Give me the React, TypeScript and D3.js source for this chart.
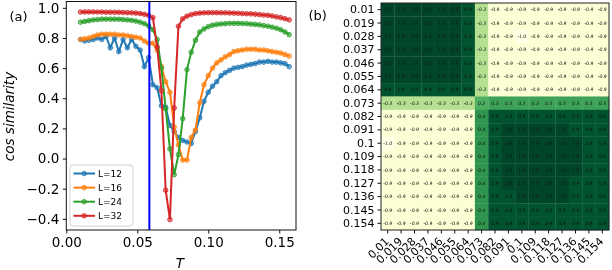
import React, { useRef, useEffect } from 'react';
import * as d3 from 'd3';

// temperatures of the curves in panel (a)
const temps = [
  0.010, 0.013, 0.016, 0.019, 0.022, 0.025, 0.028, 0.031, 0.034, 0.037,
  0.040, 0.043, 0.046, 0.049, 0.052, 0.055, 0.058, 0.061, 0.064, 0.067,
  0.070, 0.073, 0.076, 0.079, 0.082, 0.085, 0.088, 0.091, 0.094, 0.097,
  0.100, 0.103, 0.106, 0.109, 0.112, 0.115, 0.118, 0.121, 0.124, 0.127,
  0.130, 0.133, 0.136, 0.139, 0.142, 0.145, 0.148, 0.151, 0.154, 0.157,
];

const cosL12 = [
  0.79, 0.78, 0.785, 0.79, 0.80, 0.79, 0.81, 0.735, 0.80, 0.71,
  0.79, 0.735, 0.79, 0.745, 0.72, 0.61, 0.67, 0.49, 0.47, 0.35,
  0.34, 0.22, 0.18, 0.14, 0.12, 0.11, 0.10, 0.18, 0.27, 0.38,
  0.44, 0.48, 0.51, 0.55, 0.57, 0.585, 0.60, 0.605, 0.61, 0.62,
  0.625, 0.63, 0.64, 0.64, 0.645, 0.64, 0.64, 0.635, 0.63, 0.61,
];
const cosL16 = [
  0.79, 0.795, 0.80, 0.81, 0.82, 0.825, 0.825, 0.825, 0.825, 0.82,
  0.82, 0.815, 0.81, 0.805, 0.80, 0.78, 0.765, 0.765, 0.72, 0.61,
  0.51, 0.44, 0.21, 0.09, -0.01, -0.01, 0.14, 0.19, 0.37, 0.49,
  0.55, 0.60, 0.635, 0.655, 0.675, 0.69, 0.71, 0.715, 0.72, 0.725,
  0.725, 0.725, 0.72, 0.72, 0.715, 0.71, 0.705, 0.70, 0.69, 0.68,
];
const cosL24 = [
  0.905, 0.91, 0.915, 0.92, 0.922, 0.925, 0.925, 0.925, 0.925, 0.924,
  0.922, 0.92, 0.917, 0.912, 0.905, 0.895, 0.88, 0.856, 0.79, 0.60,
  0.33, 0.064, -0.107, 0.026, 0.265, 0.59, 0.705, 0.785, 0.84, 0.86,
  0.875, 0.885, 0.89, 0.893, 0.895, 0.897, 0.897, 0.897, 0.896, 0.895,
  0.892, 0.89, 0.887, 0.882, 0.878, 0.872, 0.865, 0.855, 0.84, 0.822,
];
const cosL32 = [
  0.972, 0.973, 0.973, 0.973, 0.972, 0.972, 0.971, 0.971, 0.970, 0.970,
  0.969, 0.968, 0.967, 0.965, 0.962, 0.957, 0.95, 0.935, 0.74, 0.45,
  -0.21, -0.405, 0.336, 0.878, 0.927, 0.945, 0.955, 0.962, 0.965, 0.967,
  0.968, 0.968, 0.968, 0.967, 0.967, 0.966, 0.965, 0.964, 0.962, 0.961,
  0.96, 0.958, 0.955, 0.952, 0.95, 0.946, 0.94, 0.935, 0.928, 0.92,
];

const seriesNames = ['L=12', 'L=16', 'L=24', 'L=32'];
const seriesColors = ['#1f77b4', '#ff7f0e', '#2ca02c', '#d62728'];
const markerT = 0.0585;

const xTicks = [0, 0.05, 0.1, 0.15];
const yTicks = [-0.4, -0.2, 0, 0.2, 0.4, 0.6, 0.8, 1.0];

// panel (b): similarity between temperatures
const hmLabels = [
  '0.01', '0.019', '0.028', '0.037', '0.046', '0.055', '0.064', '0.073', '0.082',
  '0.091', '0.1', '0.109', '0.118', '0.127', '0.136', '0.145', '0.154',
];
const hmValues = [
  [1.0, 1.0, 1.0, 1.0, 1.0, 1.0, 0.9, -0.3, -0.9, -0.9, -0.9, -0.9, -0.9, -0.9, -0.9, -0.9, -0.9],
  [1.0, 1.0, 1.0, 1.0, 1.0, 1.0, 0.9, -0.3, -0.9, -0.9, -0.9, -0.9, -0.9, -0.9, -0.9, -0.9, -0.9],
  [1.0, 1.0, 1.0, 1.0, 1.0, 1.0, 0.9, -0.3, -0.9, -0.9, -1.0, -0.9, -0.9, -0.9, -0.9, -0.9, -0.9],
  [1.0, 1.0, 1.0, 1.0, 1.0, 1.0, 0.9, -0.3, -0.9, -0.9, -0.9, -0.9, -0.9, -0.9, -0.9, -0.9, -0.9],
  [1.0, 1.0, 1.0, 1.0, 1.0, 1.0, 0.9, -0.3, -0.9, -0.9, -0.9, -0.9, -0.9, -0.9, -0.9, -0.9, -0.9],
  [1.0, 1.0, 1.0, 1.0, 1.0, 1.0, 0.9, -0.3, -0.9, -0.9, -0.9, -0.9, -0.9, -0.9, -0.9, -0.9, -0.9],
  [0.9, 0.9, 0.9, 0.9, 0.9, 0.9, 0.9, -0.3, -0.9, -0.9, -0.9, -0.9, -0.9, -0.9, -0.9, -0.9, -0.9],
  [-0.3, -0.3, -0.3, -0.3, -0.3, -0.3, -0.3, 0.2, 0.3, 0.3, 0.3, 0.3, 0.3, 0.3, 0.3, 0.3, 0.3],
  [-0.9, -0.9, -0.9, -0.9, -0.9, -0.9, -0.9, 0.4, 0.9, 0.9, 0.9, 0.9, 0.9, 0.9, 0.9, 0.9, 0.9],
  [-0.9, -0.9, -0.9, -0.9, -0.9, -0.9, -0.9, 0.4, 0.9, 1.0, 1.0, 1.0, 1.0, 1.0, 0.9, 0.9, 0.9],
  [-1.0, -0.9, -0.9, -0.9, -0.9, -0.9, -0.9, 0.4, 0.9, 1.0, 1.0, 1.0, 1.0, 1.0, 1.0, 0.9, 0.9],
  [-0.9, -0.9, -0.9, -0.9, -0.9, -0.9, -0.9, 0.4, 0.9, 1.0, 1.0, 1.0, 1.0, 1.0, 1.0, 0.9, 0.9],
  [-0.9, -0.9, -0.9, -0.9, -0.9, -0.9, -0.9, 0.4, 0.9, 1.0, 1.0, 1.0, 1.0, 1.0, 1.0, 0.9, 0.9],
  [-0.9, -0.9, -0.9, -0.9, -0.9, -0.9, -0.9, 0.4, 0.9, 1.0, 1.0, 1.0, 1.0, 1.0, 0.9, 0.9, 0.9],
  [-0.9, -0.9, -0.9, -0.9, -0.9, -0.9, -0.9, 0.4, 0.9, 0.9, 1.0, 1.0, 1.0, 1.0, 0.9, 0.9, 0.9],
  [-0.9, -0.9, -0.9, -0.9, -0.9, -0.9, -0.9, 0.4, 0.9, 0.9, 0.9, 0.9, 0.9, 0.9, 0.9, 0.9, 0.9],
  [-0.9, -0.9, -0.9, -0.9, -0.9, -0.9, -0.9, 0.4, 0.9, 0.9, 0.9, 0.9, 0.9, 0.9, 0.9, 0.9, 0.9],
];

const FONT = 'DejaVu Sans, sans-serif';

const App = () => {
  const svgRef = useRef<SVGSVGElement>(null);

  useEffect(() => {
    const svg = d3.select(svgRef.current);
    svg.selectAll('*').remove();
    svg.attr('width', 612).attr('height', 270).style('font-family', FONT);

    // ---------- panel (a) ----------
    const pa = { left: 66.3, right: 296, top: 1.5, bottom: 230 };
    const x = d3.scaleLinear().domain([0, 0.1618]).range([pa.left, pa.right]);
    const y = d3.scaleLinear().domain([-0.474, 1.042]).range([pa.bottom, pa.top]);

    const allSeries = [cosL12, cosL16, cosL24, cosL32];
    const line = d3.line<number>()
      .x((_, i) => x(temps[i]))
      .y((d) => y(d));

    const plot = svg.append('g');
    allSeries.forEach((vals, s) => {
      plot.append('path')
        .attr('d', line(vals))
        .attr('fill', 'none')
        .attr('stroke', seriesColors[s])
        .attr('stroke-width', 2);
      plot.append('g')
        .selectAll('circle')
        .data(vals)
        .enter()
        .append('circle')
        .attr('cx', (_, i) => x(temps[i]))
        .attr('cy', (d) => y(d))
        .attr('r', 2.3)
        .attr('fill', seriesColors[s])
        .attr('fill-opacity', 0.55)
        .attr('stroke', seriesColors[s])
        .attr('stroke-width', 0.8);
    });

    // vertical marker
    plot.append('line')
      .attr('x1', x(markerT)).attr('x2', x(markerT))
      .attr('y1', pa.top).attr('y2', pa.bottom)
      .attr('stroke', '#0000ff')
      .attr('stroke-width', 2);

    // frame
    svg.append('rect')
      .attr('x', pa.left).attr('y', pa.top)
      .attr('width', pa.right - pa.left).attr('height', pa.bottom - pa.top)
      .attr('fill', 'none').attr('stroke', '#111').attr('stroke-width', 1);

    // axes
    const xAxis = svg.append('g')
      .attr('transform', `translate(0, ${pa.bottom})`)
      .call(d3.axisBottom(x).tickValues(xTicks).tickFormat(d3.format('.2f')).tickSize(3.5).tickPadding(4));
    const yAxis = svg.append('g')
      .attr('transform', `translate(${pa.left}, 0)`)
      .call(d3.axisLeft(y).tickValues(yTicks).tickFormat(d3.format('.1f')).tickSize(3.5).tickPadding(3.5));
    [xAxis, yAxis].forEach((g) => {
      g.select('.domain').remove();
      g.selectAll('line').attr('stroke', '#111');
      g.selectAll('text').attr('font-size', 13.5).attr('fill', '#000').attr('font-family', FONT);
    });

    svg.append('text')
      .attr('transform', 'translate(13.5, 116.5) rotate(-90)')
      .attr('text-anchor', 'middle')
      .attr('font-size', 13.5)
      .attr('font-style', 'italic')
      .text('cos similarity');
    svg.append('text')
      .attr('x', x(0.08)).attr('y', 268)
      .attr('text-anchor', 'middle')
      .attr('font-size', 13.5)
      .attr('font-style', 'italic')
      .text('T');
    svg.append('text')
      .attr('x', 9.5).attr('y', 21)
      .attr('font-size', 13)
      .text('(a)');

    // legend
    const lg = svg.append('g').attr('transform', 'translate(70, 165)');
    lg.append('rect')
      .attr('width', 63).attr('height', 61)
      .attr('rx', 3)
      .attr('fill', 'white').attr('fill-opacity', 0.8)
      .attr('stroke', '#d0d0d0').attr('stroke-width', 1);
    seriesNames.forEach((name, i) => {
      const ly = 8.5 + i * 14.1;
      lg.append('line')
        .attr('x1', 3.5).attr('x2', 25).attr('y1', ly).attr('y2', ly)
        .attr('stroke', seriesColors[i]).attr('stroke-width', 2);
      lg.append('circle')
        .attr('cx', 14.2).attr('cy', ly).attr('r', 2.3)
        .attr('fill', seriesColors[i]).attr('fill-opacity', 0.55)
        .attr('stroke', seriesColors[i]).attr('stroke-width', 0.8);
      lg.append('text')
        .attr('x', 28).attr('y', ly + 3.2)
        .attr('font-size', 9)
        .text(name);
    });

    // ---------- panel (b) ----------
    const pb = { left: 381, right: 609, top: 3, bottom: 230 };
    const cx = d3.scaleBand().domain(hmLabels).range([pb.left, pb.right]);
    const cy = d3.scaleBand().domain(hmLabels).range([pb.top, pb.bottom]);
    const color = d3.scaleSequential(d3.interpolateYlGn).domain([-1, 1]);

    const cells = hmValues.flatMap((row, r) => row.map((v, c) => ({ r, c, v })));
    const hm = svg.append('g');
    hm.selectAll('rect')
      .data(cells)
      .enter()
      .append('rect')
      .attr('x', (d) => cx(hmLabels[d.c]) as number)
      .attr('y', (d) => cy(hmLabels[d.r]) as number)
      .attr('width', cx.bandwidth() + 0.3)
      .attr('height', cy.bandwidth() + 0.3)
      .attr('fill', (d) => color(d.v));
    hm.selectAll('text')
      .data(cells)
      .enter()
      .append('text')
      .attr('x', (d) => (cx(hmLabels[d.c]) as number) + cx.bandwidth() / 2)
      .attr('y', (d) => (cy(hmLabels[d.r]) as number) + cy.bandwidth() / 2 + 1.6)
      .attr('text-anchor', 'middle')
      .attr('font-size', 4.6)
      .attr('font-style', 'italic')
      .attr('fill', '#111')
      .text((d) => d.v.toFixed(1));

    svg.append('rect')
      .attr('x', pb.left).attr('y', pb.top)
      .attr('width', pb.right - pb.left).attr('height', pb.bottom - pb.top)
      .attr('fill', 'none').attr('stroke', '#222').attr('stroke-width', 1);

    const hy = svg.append('g')
      .attr('transform', `translate(${pb.left}, 0)`)
      .call(d3.axisLeft(cy).tickSize(3.5).tickPadding(3));
    hy.select('.domain').remove();
    hy.selectAll('line').attr('stroke', '#111');
    hy.selectAll('text').attr('font-size', 11).attr('fill', '#000').attr('font-family', FONT);

    const hx = svg.append('g')
      .attr('transform', `translate(0, ${pb.bottom})`)
      .call(d3.axisBottom(cx).tickSize(3.5).tickFormat(() => ''));
    hx.select('.domain').remove();
    hx.selectAll('line').attr('stroke', '#111');
    svg.append('g')
      .selectAll('text')
      .data(hmLabels)
      .enter()
      .append('text')
      .attr('transform', (d) => {
        const tx = (cx(d) as number) + cx.bandwidth() / 2 + 2;
        return `translate(${tx}, 242) rotate(-45)`;
      })
      .attr('text-anchor', 'end')
      .attr('font-size', 11)
      .text((d) => d);

    svg.append('text')
      .attr('x', 308.5).attr('y', 20)
      .attr('font-size', 13)
      .text('(b)');
  }, []);

  return (
    <div style={{ position: 'fixed', left: 0, top: 0 }}>
      <svg ref={svgRef}></svg>
    </div>
  );
};

export default App;
